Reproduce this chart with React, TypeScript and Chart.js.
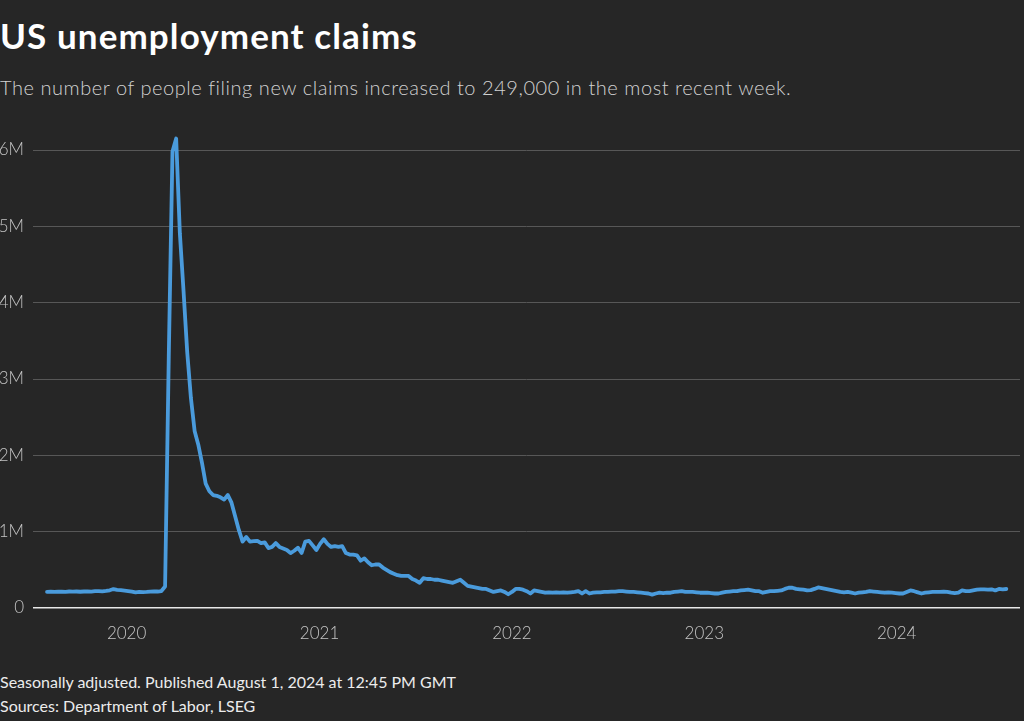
import React, { useEffect, useRef } from 'react';
import { Chart, registerables } from 'chart.js';

Chart.register(...registerables);

// First week-ending date of the weekly series
const firstWeek = '2019-08-03';

// Year tick labels (placed at Jan 1 of each year)
const yearLabels = ['2020', '2021', '2022', '2023', '2024'];

// Y tick values (thousands) and labels
const yTickValues = [0, 1000, 2000, 3000, 4000, 5000, 6000];
const yTickLabels = ['0', '1M', '2M', '3M', '4M', '5M', '6M'];

// Weekly initial jobless claims, seasonally adjusted (thousands)
const claims = [
  212, 214, 210, 213, 215, 212, 216, 214, 216, 213,
  216, 218, 215, 220, 222, 219, 224, 232, 248, 238,
  234, 228, 222, 214, 204, 212, 209, 210, 214, 218,
  216, 222, 282, 3300, 5980, 6150, 4910, 4150, 3350, 2750,
  2320, 2140, 1900, 1630, 1530, 1480, 1470, 1450, 1420, 1480,
  1380, 1200, 1020, 870, 930, 870, 875, 880, 850, 860,
  785, 800, 850, 800, 780, 760, 720, 750, 790, 720,
  870, 880, 820, 760, 840, 900, 840, 800, 810, 800,
  810, 720, 700, 700, 690, 620, 650, 600, 560, 570,
  570, 530, 500, 470, 450, 430, 420, 420, 420, 380,
  360, 330, 390, 380, 380, 370, 370, 360, 350, 340,
  330, 350, 370, 330, 290, 280, 270, 260, 250, 250,
  230, 210, 220, 230, 210, 180, 210, 250, 250, 240,
  220, 190, 230, 220, 210, 200, 205, 200, 205, 200,
  205, 200, 205, 210, 220, 190, 220, 190, 200, 205,
  205, 210, 210, 215, 215, 220, 220, 215, 210, 210,
  205, 200, 195, 190, 175, 190, 200, 195, 200, 200,
  210, 215, 220, 210, 210, 210, 205, 200, 200, 200,
  195, 190, 190, 200, 210, 215, 220, 220, 230, 235,
  240, 230, 220, 220, 200, 210, 220, 220, 225, 230,
  250, 265, 265, 250, 245, 240, 230, 235, 250, 270,
  260, 250, 240, 230, 220, 210, 205, 210, 200, 190,
  200, 205, 210, 220, 215, 210, 205, 200, 205, 200,
  195, 190, 190, 210, 230, 220, 205, 190, 200, 205,
  210, 210, 210, 215, 210, 200, 195, 200, 230, 220,
  220, 230, 240, 245, 245, 240, 245, 230, 250, 245,
  249,
];

const FONT = 'Lato, "Source Sans Pro", "Noto Sans", sans-serif';

const weekMs = 7 * 24 * 3600 * 1000;
const startMs = Date.parse(firstWeek + 'T00:00:00Z');
const yearTickPositions = yearLabels.map(
  (y) => (Date.parse(y + '-01-01T00:00:00Z') - startMs) / weekMs
);

export default function App() {
  const canvasRef = useRef<HTMLCanvasElement | null>(null);

  useEffect(() => {
    document.body.style.margin = '0';
    const canvas = canvasRef.current;
    if (!canvas) return;
    const chart = new Chart(canvas, {
      type: 'line',
      data: {
        datasets: [
          {
            data: claims.map((v, i) => ({ x: i, y: v })),
            borderColor: '#4a9bdc',
            borderWidth: 3.8,
            pointRadius: 0,
            tension: 0,
            clip: false as any,
            borderJoinStyle: 'round',
            borderCapStyle: 'round',
          },
        ],
      },
      options: {
        animation: false,
        responsive: false,
        devicePixelRatio: 1,
        layout: { padding: { top: 50, right: 4, bottom: 0, left: 0 } },
        plugins: {
          legend: { display: false },
          tooltip: { enabled: false },
        },
        scales: {
          x: {
            type: 'linear',
            min: -3.8,
            max: 263.7,
            grid: { display: false },
            border: { display: false },
            afterBuildTicks: (scale: any) => {
              scale.ticks = yearTickPositions.map((v) => ({ value: v }));
            },
            afterFit: (scale: any) => {
              scale.height = 52;
            },
            ticks: {
              autoSkip: false,
              maxRotation: 0,
              padding: 7,
              color: '#c4c4c4',
              font: { family: FONT, size: 17, weight: 300 as any },
              callback: (_v: any, i: number) => yearLabels[i],
            },
          },
          y: {
            min: 0,
            max: 6000,
            afterBuildTicks: (scale: any) => {
              scale.ticks = yTickValues.map((v) => ({ value: v }));
            },
            afterFit: (scale: any) => {
              scale.width = 33;
            },
            grid: {
              drawTicks: false,
              color: (ctx: any) => (ctx.tick && ctx.tick.value === 0 ? '#e8e8e8' : '#575757'),
              lineWidth: (ctx: any) => (ctx.tick && ctx.tick.value === 0 ? 1.5 : 1),
            },
            border: { display: false },
            ticks: {
              padding: 9,
              color: '#c4c4c4',
              font: { family: FONT, size: 17, weight: 300 as any },
              callback: (_v: any, i: number) => yTickLabels[i],
            },
          },
        },
      },
    });
    return () => chart.destroy();
  }, []);

  return (
    <div
      style={{
        position: 'fixed',
        left: 0,
        top: 0,
        width: 1024,
        height: 721,
        background: '#262626',
        overflow: 'hidden',
        fontFamily: FONT,
      }}
    >
      <div
        style={{
          position: 'absolute',
          left: 0,
          top: 18,
          fontSize: 35,
          lineHeight: '35px',
          fontWeight: 700,
          letterSpacing: 1.1,
          color: '#ffffff',
          whiteSpace: 'nowrap',
        }}
      >
        US unemployment claims
      </div>
      <div
        style={{
          position: 'absolute',
          left: 0,
          top: 77,
          fontSize: 20,
          lineHeight: '20px',
          fontWeight: 300,
          letterSpacing: 0.55,
          color: '#d2d2d2',
          whiteSpace: 'nowrap',
        }}
      >
        The number of people filing new claims increased to 249,000 in the most recent week.
      </div>
      <canvas
        ref={canvasRef}
        width={1024}
        height={560}
        style={{ position: 'absolute', left: 0, top: 100, width: 1024, height: 560 }}
      />
      <div
        style={{
          position: 'absolute',
          left: 0,
          top: 670,
          fontSize: 16,
          lineHeight: '24px',
          fontWeight: 400,
          color: '#ececec',
          whiteSpace: 'nowrap',
        }}
      >
        <div>Seasonally adjusted. Published August 1, 2024 at 12:45 PM GMT</div>
        <div>Sources: Department of Labor, LSEG</div>
      </div>
    </div>
  );
}
